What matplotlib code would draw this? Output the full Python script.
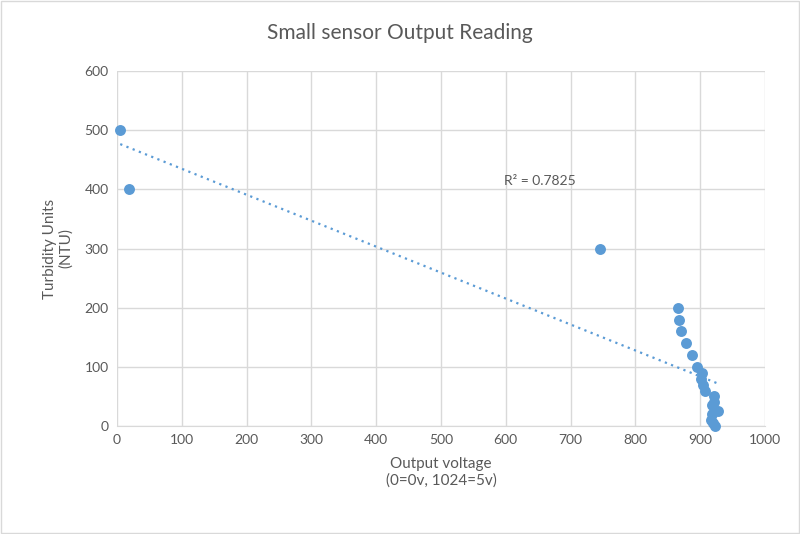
import numpy as np
import matplotlib.pyplot as plt

plt.rcParams['font.family'] = ['Lato', 'DejaVu Sans']

# readings: output value (0..1024) vs turbidity (NTU)
voltage = [5, 18, 745, 865, 868, 870, 878, 887, 895, 903, 902, 905, 908,
           922, 922, 918, 928, 918, 917, 920, 923]
turbidity = [500, 400, 300, 200, 180, 160, 140, 120, 100, 90, 80, 70, 60,
             50, 40, 35, 25, 20, 10, 5, 0]
r2_label = "R² = 0.7825"

x_ticks = list(range(0, 1001, 100))
y_ticks = list(range(0, 601, 100))

blue = '#5B9BD5'
grey = '#595959'

fig = plt.figure(figsize=(8, 5.34), dpi=100)
ax = fig.add_axes([117 / 800, 1 - 426 / 534, 648 / 800, 355 / 534])

x = np.array(voltage, dtype=float)
y = np.array(turbidity, dtype=float)
ax.scatter(x, y, s=62, color=blue, zorder=3, linewidths=0, clip_on=False)

# linear trendline
k, b = np.polyfit(x, y, 1)
xs = np.array([x.min(), x.max()])
ax.plot(xs, k * xs + b, ls=(0, (1, 2)), color=blue, lw=1.6, zorder=2)
ax.text(653, 414, r2_label, color=grey, fontsize=10, ha='center', va='center')

ax.set_xlim(0, 1000)
ax.set_ylim(0, 600)
ax.set_xticks(x_ticks)
ax.set_yticks(y_ticks)
ax.grid(True, color='#d9d9d9', lw=1)
ax.set_axisbelow(True)
for s in ['top', 'right', 'left']:
    ax.spines[s].set_visible(False)
ax.spines['bottom'].set_color('#d9d9d9')
ax.tick_params(length=0, labelsize=10, colors=grey, pad=6)

ax.set_xlabel("Output voltage\n(0=0v, 1024=5v)", fontsize=11, color=grey, labelpad=8)
ax.set_ylabel("Turbidity Units\n(NTU)", fontsize=11, color=grey, labelpad=8)
fig.text(0.5, 1 - 33 / 534, "Small sensor Output Reading", ha='center', va='center',
         fontsize=15, color=grey)

fig.patches.append(plt.Rectangle((0.001, 0.001), 0.998, 0.998, transform=fig.transFigure,
                                 fill=False, edgecolor='#d9d9d9', lw=1))

fig.savefig("out.png", dpi=100)
